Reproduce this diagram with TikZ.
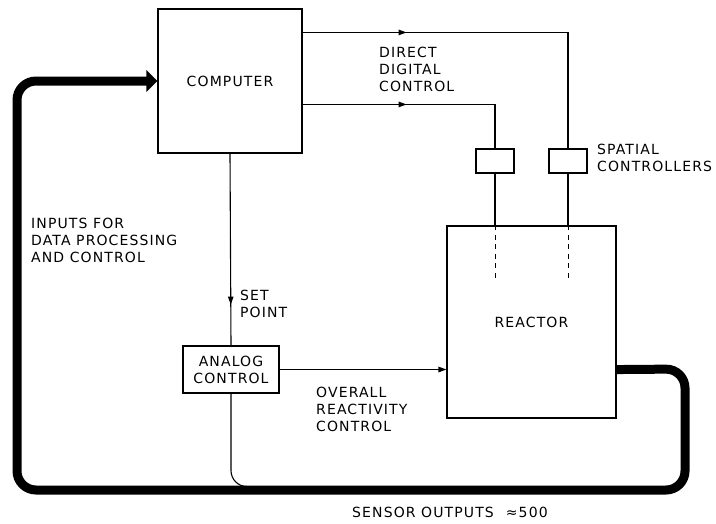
\documentclass[tikz,border=0pt]{standalone}
\usepackage{fontspec}
\setmainfont{DejaVu Sans}[LetterSpace=8]
\usetikzlibrary{arrows.meta,decorations.markings,calc}
\begin{document}
\begin{tikzpicture}[x=1pt,y=-1pt,
  txt/.style={font=\fontsize{14}{16.8}\selectfont},
  lbl/.style={txt,anchor=north west,inner sep=0pt,align=left},
  blk/.style={draw,line width=1.1pt,txt,inner sep=0pt,align=center},
  thin/.style={line width=1.1pt},
  bus/.style={line width=9pt,rounded corners=19pt},
  midarrow/.style={postaction={decorate},decoration={markings,
     mark=at position #1 with {\arrow{Triangle[length=8pt,width=5.5pt]}}}}
]
\useasboundingbox (0,0) rectangle (716,523);

% blocks
\node[blk,minimum width=144pt,minimum height=144pt] (comp) at (230,81) {COMPUTER};
\node[blk,minimum width=169pt,minimum height=192pt] (reactor) at (531.5,322) {REACTOR};
\node[blk,minimum width=96pt,minimum height=47pt] (analog) at (231,369.5) {ANALOG\\CONTROL};
\node[draw,line width=1.1pt,minimum width=38pt,minimum height=24pt,inner sep=0pt] (sc1) at (495,161) {};
\node[draw,line width=1.1pt,minimum width=38pt,minimum height=24pt,inner sep=0pt] (sc2) at (568,161) {};

% direct digital control lines
\coordinate (c1) at ($(comp.north east)+(0,24)$);
\coordinate (c2) at ($(comp.north east)+(0,96)$);
\draw[thin,midarrow=104pt] (c1) -| (sc2.north);
\draw[thin,midarrow=104pt] (c2) -| (sc1.north);

% controllers into reactor
\coordinate (r1) at (sc1.south |- reactor.north);
\coordinate (r2) at (sc2.south |- reactor.north);
\draw[thin] (sc1.south) -- (r1);
\draw[thin] (sc2.south) -- (r2);
\draw[line width=0.8pt,dash pattern=on 5pt off 4.5pt] (r1) -- ++(0,57) coordinate (r1e);
\draw[line width=0.8pt,dash pattern=on 5pt off 4.5pt] (r2) -- ++(0,57) coordinate (r2e);

% set point
\draw[thin,midarrow=151pt] (comp.south) -- (analog.north);

% overall reactivity control
\draw[thin,-{Triangle[length=8pt,width=5.5pt]}] (analog.east) -- (analog.east -| reactor.west);

% analog output joining sensor bus
\coordinate (j1) at ($(analog.south)+(40,93)$);
\draw[thin,rounded corners=16pt] (analog.south) |- (j1);

% sensor bus
\coordinate (b0) at ($(reactor.south east)+(0,-49)$);
\coordinate (b1) at (685,369);
\coordinate (b2) at (685,490);
\coordinate (b3) at (17,490);
\coordinate (b4) at (17,81);
\draw[bus,-{Triangle[length=11pt,width=21pt]}] (b0) -- (b1) -- (b2) -- (b3) -- (b4) -- (comp.west);

% labels
\node[lbl] (lddc) at (379,47) {DIRECT\\DIGITAL\\CONTROL};
\node[lbl] (lsp) at (597,144) {SPATIAL\\CONTROLLERS};
\node[lbl] (lin) at (31,218) {INPUTS FOR\\DATA PROCESSING\\AND CONTROL};
\node[lbl] (lset) at (240,290) {SET\\POINT};
\node[lbl] (lorc) at (316,387) {OVERALL\\REACTIVITY\\CONTROL};
\node[lbl] (lsens) at (352,507) {SENSOR OUTPUTS\hspace{12pt}≈500};
\end{tikzpicture}
\end{document}
